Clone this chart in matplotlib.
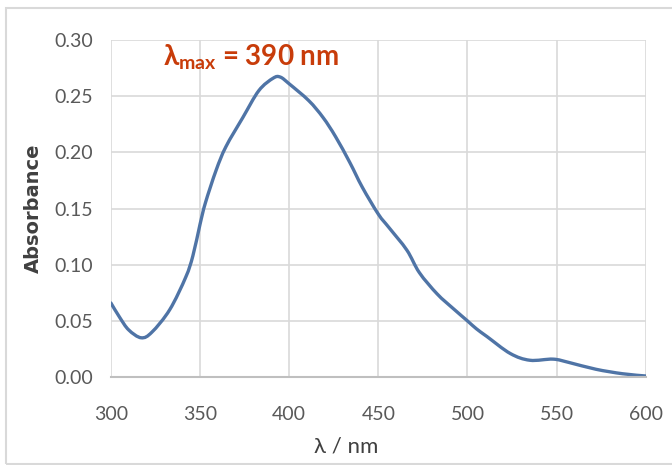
import numpy as np
import matplotlib
matplotlib.use("Agg")
from matplotlib import pyplot as plt
from matplotlib.patches import Rectangle, PathPatch
from matplotlib.path import Path

# values
wavelength = [300, 305, 310, 317, 323, 333, 342, 346, 350, 353, 359, 364.5, 374,
              383, 391, 395, 400, 411, 419, 426, 434, 441, 450, 456, 466, 473,
              483, 492, 500, 505, 511, 524, 535, 548, 557, 572, 587, 600]
absorbance = [0.066, 0.053, 0.042, 0.035, 0.040, 0.060, 0.089, 0.108, 0.136, 0.155,
              0.184, 0.205, 0.231, 0.255, 0.266, 0.267, 0.261, 0.246, 0.231, 0.214,
              0.191, 0.169, 0.145, 0.133, 0.113, 0.093, 0.074, 0.061, 0.050, 0.043,
              0.036, 0.021, 0.015, 0.016, 0.013, 0.007, 0.003, 0.001]
x_ticks = [300, 350, 400, 450, 500, 550, 600]
y_ticks = [0.00, 0.05, 0.10, 0.15, 0.20, 0.25, 0.30]

plt.rcParams['font.family'] = ['Lato', 'DejaVu Sans']
plt.rcParams['mathtext.fontset'] = 'custom'
plt.rcParams['mathtext.rm'] = 'Lato:bold'
plt.rcParams['mathtext.it'] = 'Lato:bold'
plt.rcParams['mathtext.bf'] = 'Lato:bold'


def smooth_path(xs, ys, t=1 / 6):
    # excel-like smoothed line: bezier segments through the points
    xs = np.asarray(xs, float)
    ys = np.asarray(ys, float)
    n = len(xs)
    verts = [(xs[0], ys[0])]
    codes = [Path.MOVETO]
    for i in range(n - 1):
        p0 = (xs[max(i - 1, 0)], ys[max(i - 1, 0)])
        p1 = (xs[i], ys[i])
        p2 = (xs[i + 1], ys[i + 1])
        p3 = (xs[min(i + 2, n - 1)], ys[min(i + 2, n - 1)])
        c1 = (p1[0] + (p2[0] - p0[0]) * t, p1[1] + (p2[1] - p0[1]) * t)
        c2 = (p2[0] - (p3[0] - p1[0]) * t, p2[1] - (p3[1] - p1[1]) * t)
        verts += [c1, c2, p2]
        codes += [Path.CURVE4] * 3
    return Path(verts, codes)


fig = plt.figure(figsize=(6.72, 4.65), dpi=100)
ax = fig.add_axes([0.165, 0.189, 0.796, 0.725])

ax.add_patch(PathPatch(smooth_path(wavelength, absorbance), facecolor='none',
                       edgecolor='#4f74a6', linewidth=2.4, capstyle='round'))

ax.set_xlim(300, 600)
ax.set_ylim(0, 0.30)
ax.set_xticks(x_ticks)
ax.set_yticks(y_ticks)
ax.set_yticklabels(["%.2f" % v for v in y_ticks])
ax.grid(True, color='#d9d9d9', linewidth=1.2)
ax.set_axisbelow(True)
for s in ['top', 'right', 'left']:
    ax.spines[s].set_visible(False)
ax.spines['bottom'].set_color('#bfbfbf')
ax.spines['bottom'].set_linewidth(1.5)
ax.tick_params(length=0, labelsize=14, labelcolor='#595959')
ax.tick_params(axis='y', pad=13)
ax.tick_params(axis='x', pad=21)

ax.set_xlabel("λ / nm", fontsize=16, color='#404040', labelpad=6)
ax.xaxis.set_label_coords(0.44, -0.175)
ax.set_ylabel("Absorbance", fontsize=14, fontweight='bold', color='#404040',
              family=['DejaVu Sans'], labelpad=8)

ax.text(329, 0.285, r'$\lambda_{\mathrm{max}}$ = 390 nm', fontsize=20, fontweight='bold',
        color='#c83c0a', va='center', ha='left')

fig.add_artist(Rectangle((6 / 672, 1 / 465), 1.2, 1 - 9 / 465, transform=fig.transFigure,
                         facecolor='none', edgecolor='#d9d9d9', linewidth=1.5))

fig.savefig("out.png", dpi=100)
